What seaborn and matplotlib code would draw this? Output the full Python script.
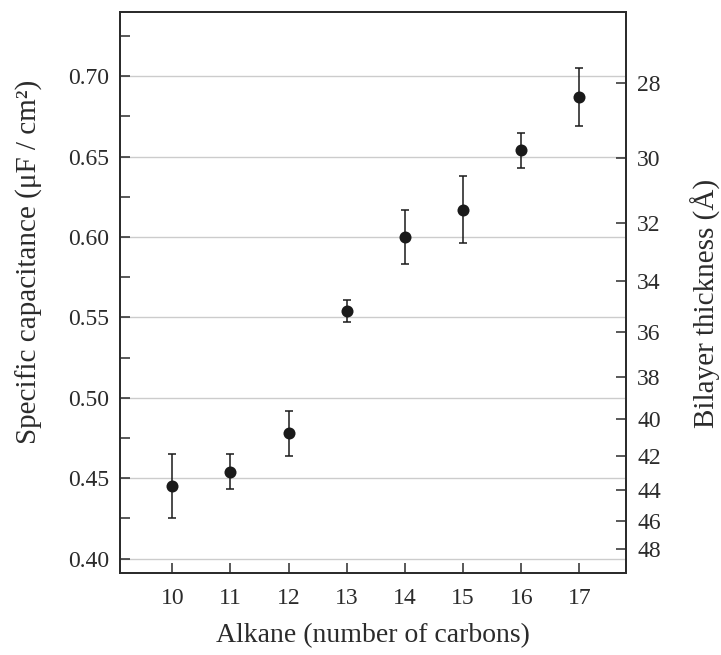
import numpy as np
import matplotlib
matplotlib.use("Agg")
import matplotlib.pyplot as plt
import seaborn as sns
from matplotlib.ticker import MultipleLocator

# Data
carbons = [10, 11, 12, 13, 14, 15, 16, 17]
capacitance = [0.445, 0.454, 0.478, 0.554, 0.600, 0.617, 0.654, 0.687]
cap_err = [0.020, 0.011, 0.014, 0.007, 0.017, 0.021, 0.011, 0.018]
thickness_ticks = [28, 30, 32, 34, 36, 38, 40, 42, 44, 46, 48]
k_thick = 19.48  # capacitance * thickness (uF/cm2 * Angstrom)

sns.set_theme(style="white")
plt.rcParams['font.family'] = ['Liberation Serif', 'DejaVu Serif']

ink = '#2b2b2b'
fig = plt.figure(figsize=(7.21, 6.55), dpi=100)
ax = fig.add_axes([0.1664, 0.1252, 0.7018, 0.8565])

ax.errorbar(carbons, capacitance, yerr=cap_err, fmt='none', ecolor='#1a1a1a',
            elinewidth=1.1, capsize=3, capthick=1.1, zorder=3)
sns.scatterplot(x=carbons, y=capacitance, ax=ax, color='#1a1a1a', s=75,
                edgecolor='#1a1a1a', linewidth=0, zorder=4)

ax.set_xlim(9.1, 17.8)
ax.set_ylim(0.391, 0.740)
ax.set_xticks(carbons)
ax.yaxis.set_major_locator(MultipleLocator(0.05))
ax.yaxis.set_minor_locator(MultipleLocator(0.025))
ax.yaxis.set_major_formatter(plt.FuncFormatter(lambda v, p: f"{v:.2f}"))
ax.grid(axis='y', which='major', color='#cccccc', linewidth=1)
ax.set_axisbelow(True)

for s in ax.spines.values():
    s.set_color(ink)
    s.set_linewidth(1.3)

ax.tick_params(axis='both', which='both', direction='in', length=7, width=1.1,
               color=ink, labelcolor=ink, labelsize=17, left=True, bottom=True)
ax.tick_params(axis='x', pad=11)
ax.tick_params(axis='y', pad=8)

ax.set_xlabel('Alkane (number of carbons)', fontsize=20, color=ink, labelpad=10)
ax.set_ylabel('Specific capacitance (μF / cm²)', fontsize=21, color=ink)
ax.yaxis.set_label_coords(-0.152, 0.554)

# right axis: bilayer thickness d = k / C
ax2 = ax.twinx()
ax2.set_ylim(ax.get_ylim())
ax2.set_yticks([k_thick / d for d in thickness_ticks])
ax2.set_yticklabels([str(d) for d in thickness_ticks])
ax2.tick_params(axis='y', direction='in', length=7, width=1.1, color=ink,
                labelcolor=ink, labelsize=17, right=True, pad=8)
for s in ax2.spines.values():
    s.set_color(ink)
    s.set_linewidth(1.3)
ax2.set_ylabel('Bilayer thickness (Å)', fontsize=21, color=ink)
ax2.yaxis.set_label_coords(1.128, 0.48)
ax2.grid(False)

fig.savefig('out.png', dpi=100)
